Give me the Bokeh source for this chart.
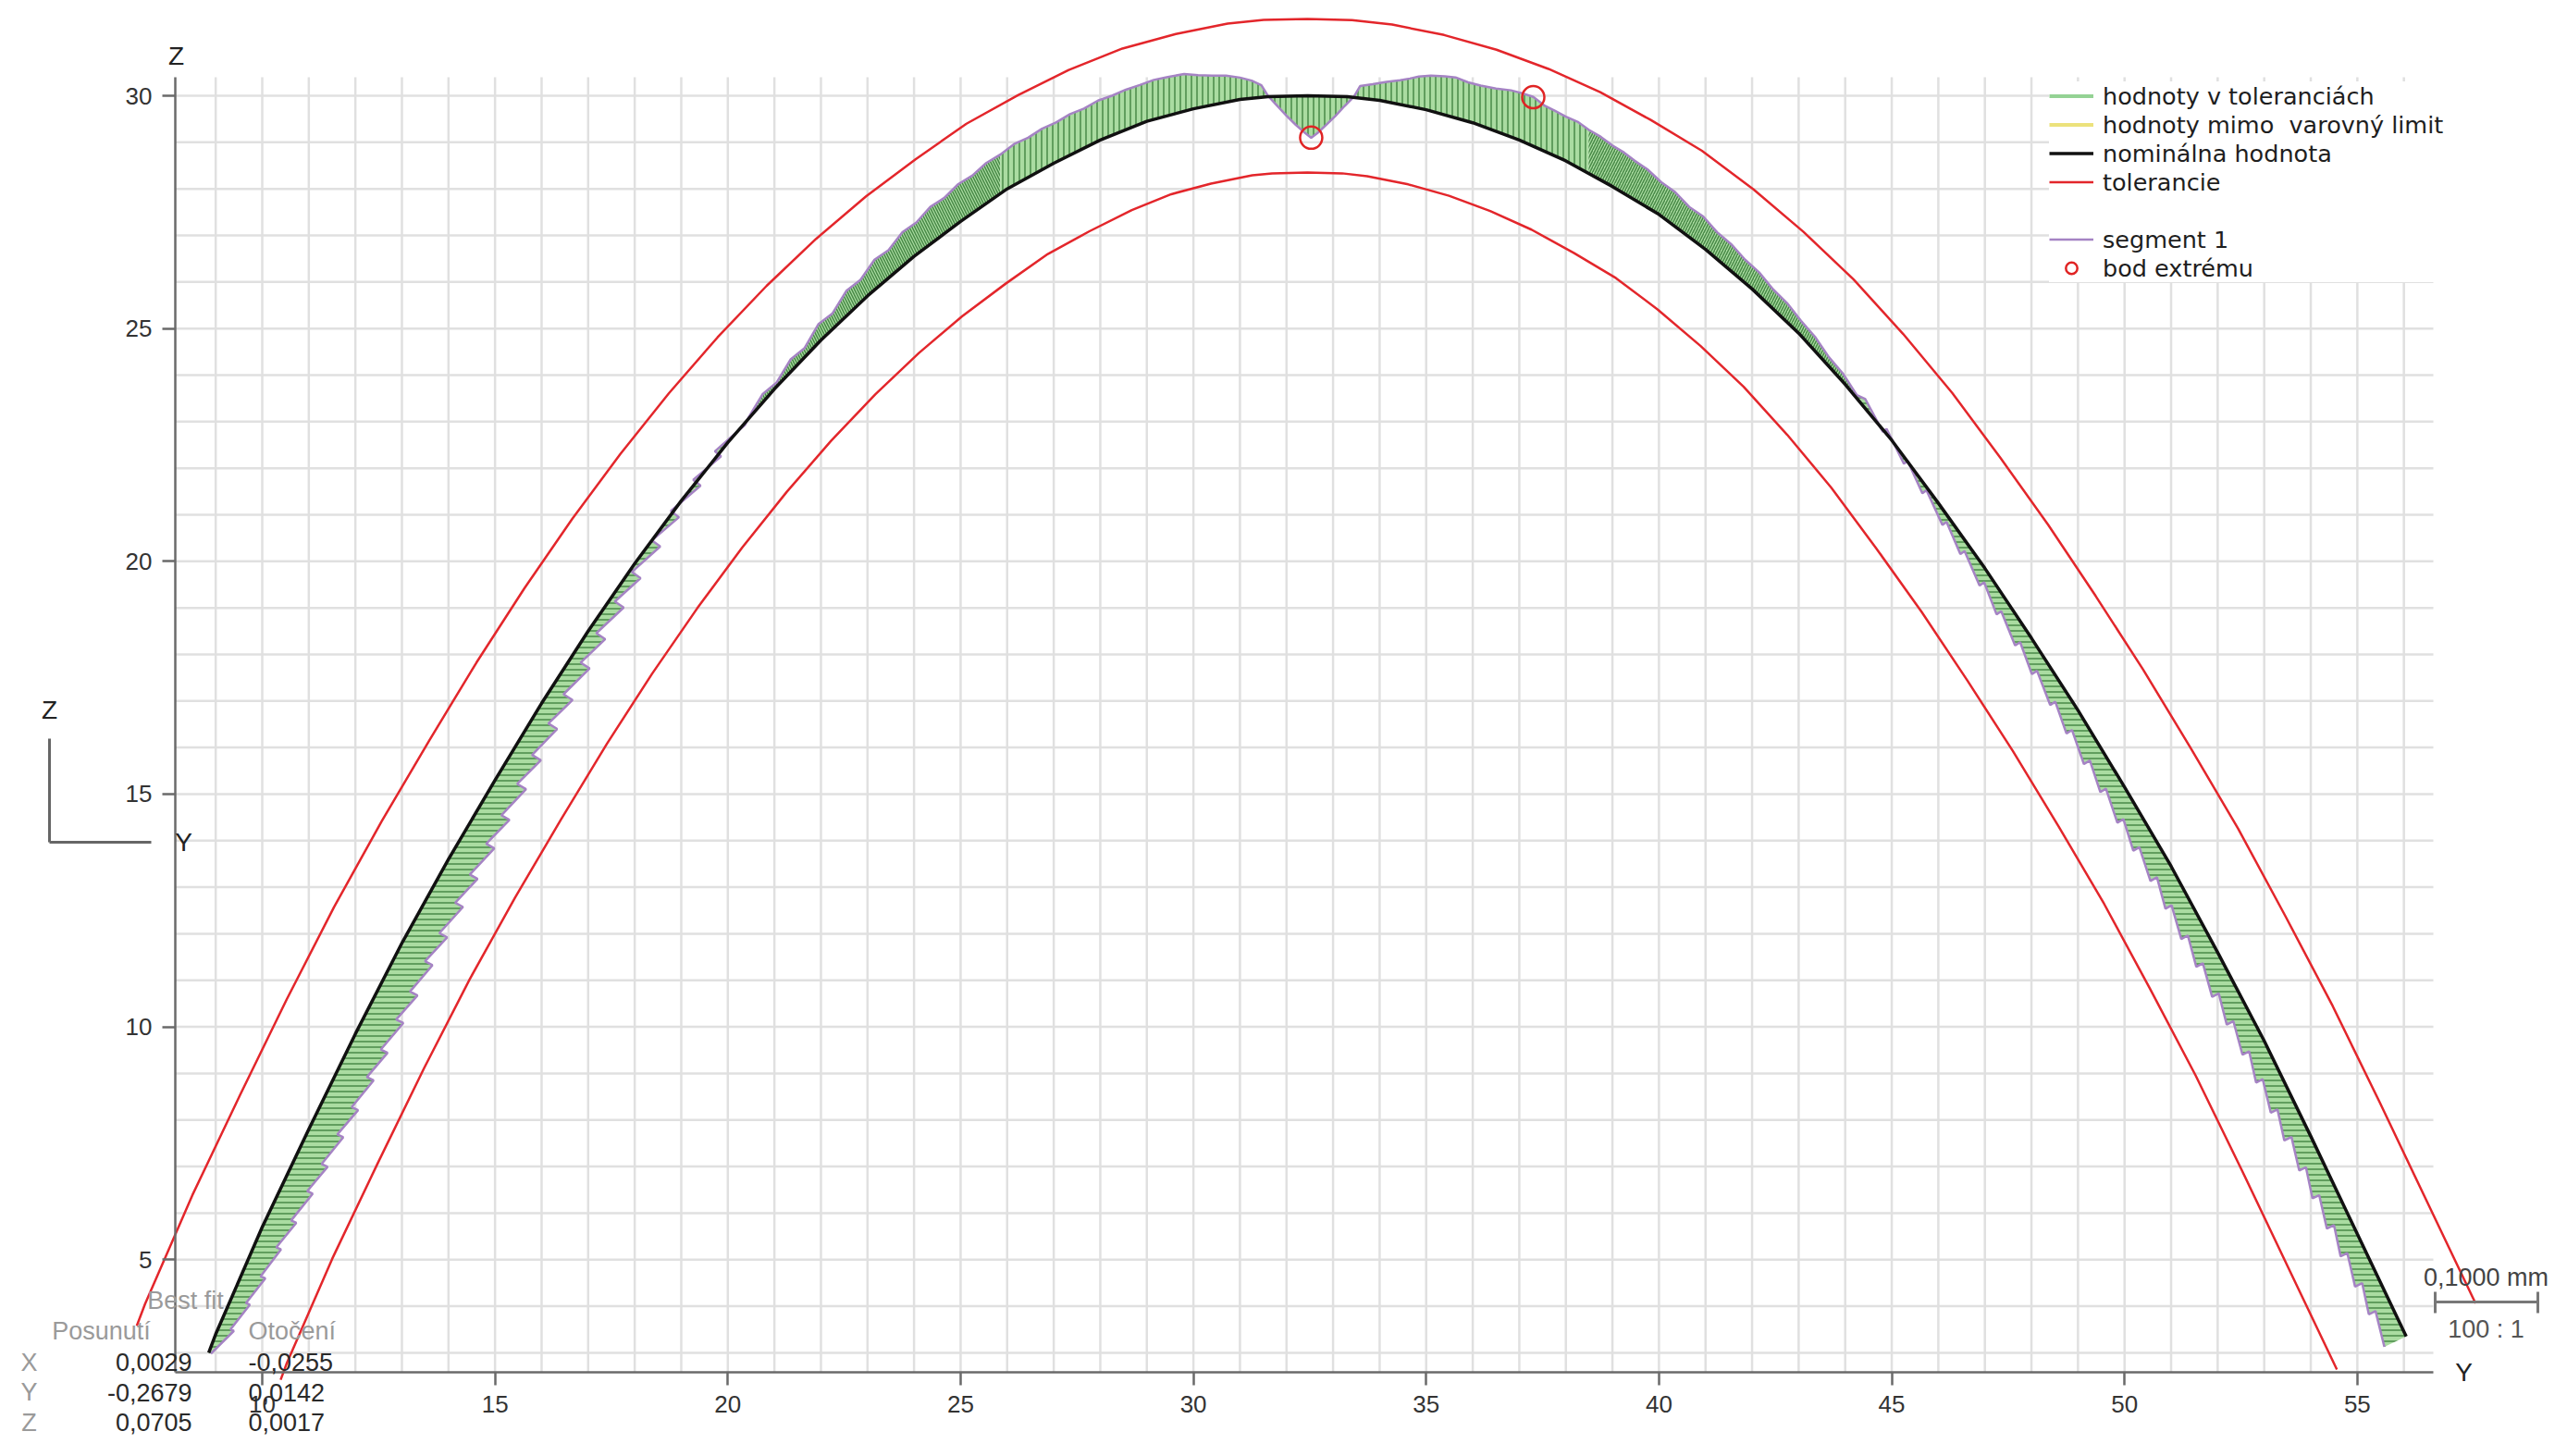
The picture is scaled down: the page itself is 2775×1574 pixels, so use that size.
import numpy as np
from bokeh.plotting import figure
from bokeh.models import Label, Legend, LegendItem, FixedTicker
from bokeh.embed import file_html
from bokeh.resources import INLINE

# ---------------- data ----------------
# nominal profile (Y, Z)
NOM_Y = [8.85, 9, 10, 11, 12, 13, 14, 15, 16, 17, 18, 19, 20, 21, 22, 23, 24, 25, 26, 27, 28, 29, 30, 31,
         31.6, 32.45, 33.3, 34, 35, 36, 37, 38, 39, 40, 41, 42, 43, 44, 45, 46, 47, 48, 49, 50, 51, 52,
         53, 54, 55, 56.05]
NOM_Z = [3.0, 3.4, 5.7, 7.8, 9.85, 11.8, 13.6, 15.3, 16.95, 18.5, 19.95, 21.3, 22.55, 23.7, 24.75, 25.7,
         26.55, 27.3, 28.0, 28.55, 29.05, 29.45, 29.72, 29.92, 29.98, 30.0, 29.98, 29.9, 29.7, 29.42,
         29.05, 28.6, 28.05, 27.45, 26.7, 25.85, 24.9, 23.8, 22.6, 21.25, 19.85, 18.35, 16.8, 15.15,
         13.45, 11.6, 9.7, 7.65, 5.55, 3.35]
TOL = 1.65  # tolerance band half-width (display units)

# left flank: tooth boundaries (Z) and normal deviations at start / end of each tooth
LF_Z = [3.0, 3.6, 4.2, 4.8, 5.45, 6.05, 6.7, 7.3, 7.95, 8.55, 9.2, 9.8, 10.45, 11.05, 11.7, 12.3, 12.95,
        13.55, 14.2, 14.8, 15.45, 16.05, 16.7, 17.3, 17.95, 18.55, 19.2, 19.8, 20.45, 21.05, 21.7, 22.3, 22.95]
LF_START = [-0.05, -0.25, -0.33, -0.39, -0.45, -0.50, -0.54, -0.57, -0.60, -0.62, -0.63, -0.64, -0.64,
            -0.63, -0.62, -0.60, -0.58, -0.56, -0.53, -0.50, -0.45, -0.40, -0.35, -0.29, -0.23, -0.17,
            -0.11, -0.05, 0.00, 0.05, 0.08, 0.10]
LF_END = [-0.33, -0.42, -0.50, -0.56, -0.62, -0.67, -0.71, -0.74, -0.77, -0.79, -0.80, -0.81, -0.81,
          -0.80, -0.79, -0.77, -0.75, -0.73, -0.70, -0.67, -0.62, -0.57, -0.52, -0.46, -0.40, -0.34,
          -0.28, -0.22, -0.17, -0.12, -0.07, -0.03]

# top part: stations (Y) and vertical deviations
TOP_Y = [20.45, 20.75, 21.05, 21.35, 21.65, 21.95, 22.25, 22.55, 22.85, 23.15,
         23.45, 23.75, 24.05, 24.35, 24.65, 24.95, 25.25, 25.55, 25.85, 26.15,
         26.45, 26.75, 27.05, 27.35, 27.65, 27.95, 28.25, 28.55, 28.85, 29.15,
         29.45, 29.8, 30.1, 30.4, 30.7, 31.0, 31.25, 31.46, 31.6, 31.8,
         32.0, 32.2, 32.4, 32.53, 32.66, 32.85, 33.05, 33.25, 33.45, 33.58,
         33.85, 34.15, 34.44, 34.65, 34.84, 35.1, 35.4, 35.63, 35.9, 36.17,
         36.5, 36.82, 37.05, 37.3, 37.55, 37.76, 38.0, 38.25, 38.49, 38.75,
         39.0, 39.25, 39.48, 39.75, 40.05, 40.35, 40.65, 40.95, 41.25, 41.55,
         41.85, 42.15, 42.45, 42.75, 43.05, 43.35, 43.65, 43.95, 44.25]
TOP_DZ = [0.03, 0.18, 0.09, 0.27, 0.20, 0.40, 0.34, 0.54, 0.49, 0.65,
          0.60, 0.73, 0.69, 0.80, 0.77, 0.84, 0.81, 0.87, 0.84, 0.88,
          0.85, 0.88, 0.85, 0.88, 0.85, 0.87, 0.85, 0.86, 0.84, 0.85,
          0.83, 0.80, 0.70, 0.63, 0.57, 0.47, 0.38, 0.26, 0.02, -0.20,
          -0.42, -0.62, -0.80, -0.90, -0.80, -0.62, -0.42, -0.20, 0.02, 0.26,
          0.33, 0.43, 0.52, 0.60, 0.68, 0.76, 0.83, 0.87, 0.84, 0.86,
          0.92, 1.00, 1.03, 1.06, 0.98, 0.97, 0.95, 0.98, 0.94, 0.93,
          0.88, 0.88, 0.84, 0.82, 0.73, 0.74, 0.65, 0.67, 0.58, 0.58,
          0.50, 0.50, 0.42, 0.41, 0.32, 0.31, 0.20, 0.18, 0.07]

# right flank: tooth boundaries (Z, going down) and normal deviations
RF_Z = [23.4, 22.8, 22.15, 21.55, 20.9, 20.3, 19.65, 19.05, 18.4, 17.8, 17.15, 16.55, 15.9, 15.3, 14.65,
        14.05, 13.4, 12.8, 12.15, 11.55, 10.9, 10.3, 9.65, 9.05, 8.4, 7.8, 7.15, 6.55, 5.9, 5.3, 4.65, 4.05, 3.35]
RF_START = [0.13, 0.07, 0.01, -0.04, -0.09, -0.14, -0.18, -0.22, -0.25, -0.28, -0.31, -0.33, -0.34, -0.36,
            -0.37, -0.38, -0.38, -0.39, -0.39, -0.39, -0.39, -0.39, -0.39, -0.39, -0.39, -0.38, -0.38,
            -0.38, -0.37, -0.37, -0.36, -0.36]
RF_END = [-0.03, -0.09, -0.15, -0.20, -0.25, -0.30, -0.34, -0.38, -0.41, -0.44, -0.47, -0.49, -0.50, -0.52,
          -0.53, -0.54, -0.54, -0.55, -0.55, -0.55, -0.55, -0.55, -0.55, -0.55, -0.55, -0.54, -0.54,
          -0.54, -0.53, -0.53, -0.52, -0.52]

EXTREME_Y = [32.53, 37.3]
EXTREME_Z = [29.1, 29.97]

X_TICKS = [10, 15, 20, 25, 30, 35, 40, 45, 50, 55]
Z_TICKS = [5, 10, 15, 20, 25, 30]

BEST_FIT_ROWS = ["X", "Y", "Z"]
SHIFT_VALUES = ["0,0029", "-0,2679", "0,0705"]
ROT_VALUES = ["-0,0255", "0,0142", "0,0017"]

# ---------------- geometry helpers ----------------
ny = np.array(NOM_Y, dtype=float)
nz = np.array(NOM_Z, dtype=float)
gy, gz = np.gradient(ny), np.gradient(nz)
gl = np.hypot(gy, gz)
oy, oz = -gz / gl, gy / gl            # outward unit normal at each vertex

def normal_at(y):
    a, b = np.interp(y, ny, oy), np.interp(y, ny, oz)
    l = np.hypot(a, b)
    return a / l, b / l

k = int(np.argmax(nz))
left_z, left_y = nz[:k + 1], ny[:k + 1]
right_z, right_y = nz[k:][::-1], ny[k:][::-1]

mY, mZ, bY, bZ, grp = [], [], [], [], []

def add_normal(y, z, d, g):
    a, b = normal_at(y)
    bY.append(y); bZ.append(z)
    mY.append(y + d * a); mZ.append(z + d * b)
    grp.append(g)

for i in range(len(LF_START)):
    for zz, d in ((LF_Z[i], LF_START[i]), (LF_Z[i + 1], LF_END[i])):
        add_normal(float(np.interp(zz, left_z, left_y)), zz, d, 0)

for y, d in zip(TOP_Y, TOP_DZ):
    z = float(np.interp(y, ny, nz))
    bY.append(y); bZ.append(z); mY.append(y); mZ.append(z + d)
    grp.append(1 if y < 26 else (2 if y <= 38.5 else 3))

for i in range(len(RF_START)):
    for zz, d in ((RF_Z[i], RF_START[i]), (RF_Z[i + 1], RF_END[i])):
        add_normal(float(np.interp(zz, right_z, right_y)), zz, d, 4)

mY, mZ, bY, bZ = map(np.array, (mY, mZ, bY, bZ))
grp = np.array(grp)

outer_y, outer_z = ny + TOL * oy, nz + TOL * oz
inner_y, inner_z = ny - TOL * oy, nz - TOL * oz

# ---------------- figure ----------------
W, H = 2770, 1570
SC = 50.33                     # px per unit (equal aspect)
X0 = 10 - 283 / SC
X1 = X0 + W / SC
Z1 = 30 + 103 / SC
Z0 = Z1 - H / SC

def dx(px):
    return X0 + px / SC

def dz(py):
    return Z1 - py / SC

p = figure(width=W, height=H, x_range=(X0, X1), y_range=(Z0, Z1),
           output_backend="svg", toolbar_location=None, min_border=0)
p.outline_line_color = None
p.xgrid.visible = False
p.ygrid.visible = False
p.background_fill_color = "white"

AX_Y, AX_Z = dx(189), dz(1483)
TOP_G, RIGHT_G = dz(83), dx(2630)

# grid
gx = list(range(9, 57))
p.segment(x0=gx, y0=[AX_Z] * len(gx), x1=gx, y1=[TOP_G] * len(gx), line_color="#e0e0e0", line_width=2.5)
gzs = list(range(3, 31))
p.segment(x0=[AX_Y] * len(gzs), y0=gzs, x1=[RIGHT_G] * len(gzs), y1=gzs, line_color="#e0e0e0", line_width=2.5)

# axes at fixed locations
p.xaxis.fixed_location = AX_Z
p.yaxis.fixed_location = AX_Y
p.xaxis.bounds = (AX_Y, RIGHT_G)
p.yaxis.bounds = (AX_Z, TOP_G)
p.xaxis.ticker = FixedTicker(ticks=X_TICKS)
p.yaxis.ticker = FixedTicker(ticks=Z_TICKS)
for ax in (p.xaxis, p.yaxis):
    ax.axis_line_color = "#6a6a6a"
    ax.axis_line_width = 2.5
    ax.major_tick_line_color = "#6a6a6a"
    ax.major_tick_line_width = 2.5
    ax.major_tick_out = 14
    ax.major_tick_in = 0
    ax.minor_tick_out = 0
    ax.minor_tick_in = 0
    ax.major_label_text_font = "Liberation Sans"
    ax.major_label_text_font_size = "26px"
    ax.major_label_text_color = "#333333"
    ax.major_label_standoff = 11

# green deviation band (one patch per region)
HATCH = {0: "-", 1: "\\", 2: "|", 3: "/", 4: "-"}
idx_all = np.arange(len(mY))
for g, pat in HATCH.items():
    idx = idx_all[grp == g]
    if idx[0] > 0:
        idx = np.concatenate([[idx[0] - 1], idx])
    xs = np.concatenate([mY[idx], bY[idx][::-1]])
    ys = np.concatenate([mZ[idx], bZ[idx][::-1]])
    p.patch(xs, ys, fill_color="#aadca1", line_color=None, hatch_pattern=pat,
            hatch_color="#367a36", hatch_scale=6, hatch_weight=1.5, hatch_alpha=0.85)

seg_r = p.line(mY, mZ, line_color="#a583c4", line_width=2.5)
nom_r = p.line(ny, nz, line_color="#111111", line_width=3.5)
tol_r = p.line(outer_y, outer_z, line_color="#e3262b", line_width=2.5)
p.line(inner_y, inner_z, line_color="#e3262b", line_width=2.5)
ext_r = p.scatter(EXTREME_Y, EXTREME_Z, marker="circle", size=24, fill_color=None,
                  line_color="#e02424", line_width=2.5)

# legend (proxy renderers without visible data for the two band colours)
green_r = p.line([np.nan, np.nan], [np.nan, np.nan], line_color="#94d294", line_width=4)
yellow_r = p.line([np.nan, np.nan], [np.nan, np.nan], line_color="#ece27c", line_width=4)
blank_r = p.line([np.nan, np.nan], [np.nan, np.nan], line_alpha=0)
LEG_TOP, LEG_ITEM, LEG_PAD = 68, 31, 10
LEG_H = 2 * LEG_PAD + 7 * LEG_ITEM
legend = Legend(items=[
    LegendItem(label="hodnoty v toleranciách", renderers=[green_r]),
    LegendItem(label="hodnoty mimo  varovný limit", renderers=[yellow_r]),
    LegendItem(label="nominálna hodnota", renderers=[nom_r]),
    LegendItem(label="tolerancie", renderers=[tol_r]),
    LegendItem(label=" ", renderers=[blank_r]),
    LegendItem(label="segment 1", renderers=[seg_r]),
    LegendItem(label="bod extrému", renderers=[ext_r]),
], location=(2215, H - (LEG_TOP + LEG_H)), padding=LEG_PAD, spacing=0, margin=0,
    glyph_width=48, glyph_height=LEG_ITEM, label_height=LEG_ITEM, label_standoff=10,
    label_text_font="DejaVu Sans", label_text_font_size="25.5px", label_text_color="#1e1e1e",
    border_line_color=None, background_fill_color="white", background_fill_alpha=1.0)
p.add_layout(legend)

# texts
def lab(px, py, text, align="center", color="#222222", size="27px", font="Liberation Sans"):
    p.add_layout(Label(x=dx(px), y=dz(py), text=text, text_align=align, text_baseline="middle",
                       text_color=color, text_font_size=size, text_font=font))

lab(190, 60, "Z", size="28px")
lab(2663, 1483, "Y", size="28px")
lab(200, 1405, "Best fit", color="#9a9a9a")
lab(109, 1438, "Posunutí", color="#9a9a9a")
lab(268, 1438, "Otočení", align="left", color="#9a9a9a")
for r, (row, sv, rv) in enumerate(zip(BEST_FIT_ROWS, SHIFT_VALUES, ROT_VALUES)):
    yy = 1472 + 32.5 * r
    lab(31, yy, row, color="#9a9a9a")
    lab(207, yy, sv, align="right", color="#2a2a2a")
    lab(268, yy, rv, align="left", color="#2a2a2a")

# scale bar
lab(2687, 1380, "0,1000 mm", color="#444444")
lab(2687, 1436, "100 : 1", color="#555555")
p.segment(x0=[dx(2632), dx(2632), dx(2743)], y0=[dz(1407), dz(1396), dz(1396)],
          x1=[dx(2743), dx(2632), dx(2743)], y1=[dz(1407), dz(1419), dz(1419)],
          line_color="#777777", line_width=3)

# coordinate triad
lab(53, 767, "Z", size="28px")
lab(198, 910, "Y", size="28px")
p.segment(x0=[dx(53), dx(53)], y0=[dz(798), dz(910)], x1=[dx(53), dx(163)], y1=[dz(910), dz(910)],
          line_color="#666666", line_width=3)

open("out.html", "w").write(file_html(p, INLINE))
